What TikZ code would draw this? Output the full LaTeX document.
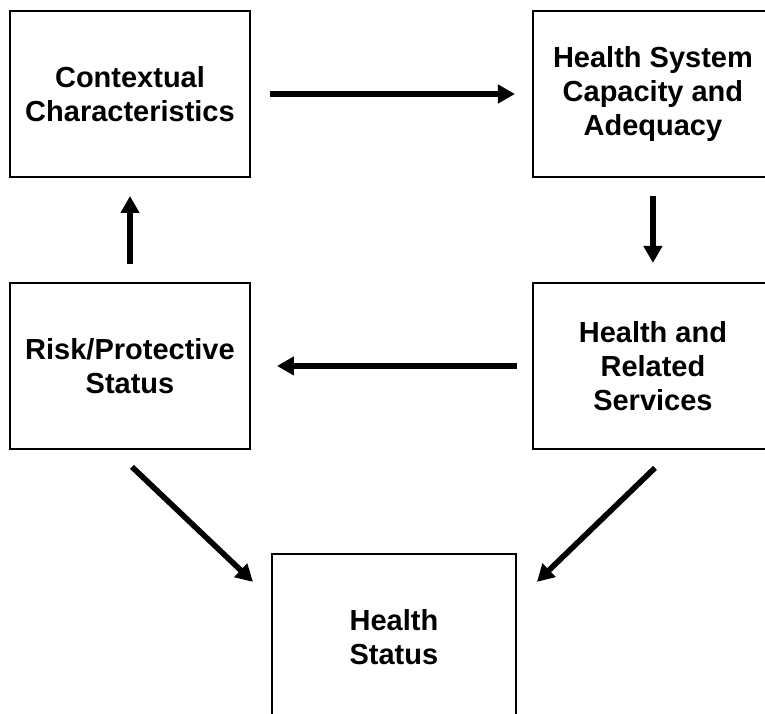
\documentclass[tikz,border=0pt]{standalone}
\usepackage{fontspec}
\setmainfont{Liberation Sans}
\usetikzlibrary{arrows.meta, positioning}
\tikzset{
    box/.style={
        rectangle,
        draw=black,
        line width=1.1pt,
        minimum width=4.8cm,
        minimum height=3.32cm,
        align=center,
        font=\fontsize{16.5}{19.3}\selectfont\bfseries
    },
    arrow/.style={
        line width=3.2pt,
        -{Triangle[length=0.34cm, width=0.36cm]}
    }
}
\begin{document}
\begin{tikzpicture}
\useasboundingbox (0,0) rectangle (15.3,-14.26);
\clip (0,0) rectangle (15.3,-14.26);

\node (context) [box] at (2.6,-1.88) {Contextual\\Characteristics};
\node (capacity) [box, right=5.62cm of context] {Health System\\Capacity and\\Adequacy};
\node (risk) [box, below=2.08cm of context] {Risk/Protective\\Status};
\node (services) [box, below=2.08cm of capacity] {Health and\\Related\\Services};
\node (outcome) [box, minimum width=4.88cm, below right=2.06cm and 0.4cm of risk] {Health\\Status};

\draw [arrow, shorten <=0.38cm, shorten >=0.34cm] (context) -- (capacity);
\draw [arrow, shorten <=0.36cm, shorten >=0.38cm] (capacity) -- (services);
\draw [arrow, shorten <=0.3cm, shorten >=0.52cm] (services) -- (risk);
\draw [arrow, shorten <=0.36cm, shorten >=0.36cm] (risk) -- (context);
\draw [arrow] ([xshift=0.04cm, yshift=-0.34cm]risk.south) -- ([xshift=-0.36cm, yshift=-0.58cm]outcome.north west);
\draw [arrow] ([xshift=0.04cm, yshift=-0.36cm]services.south) -- ([xshift=0.4cm, yshift=-0.58cm]outcome.north east);

\end{tikzpicture}
\end{document}
